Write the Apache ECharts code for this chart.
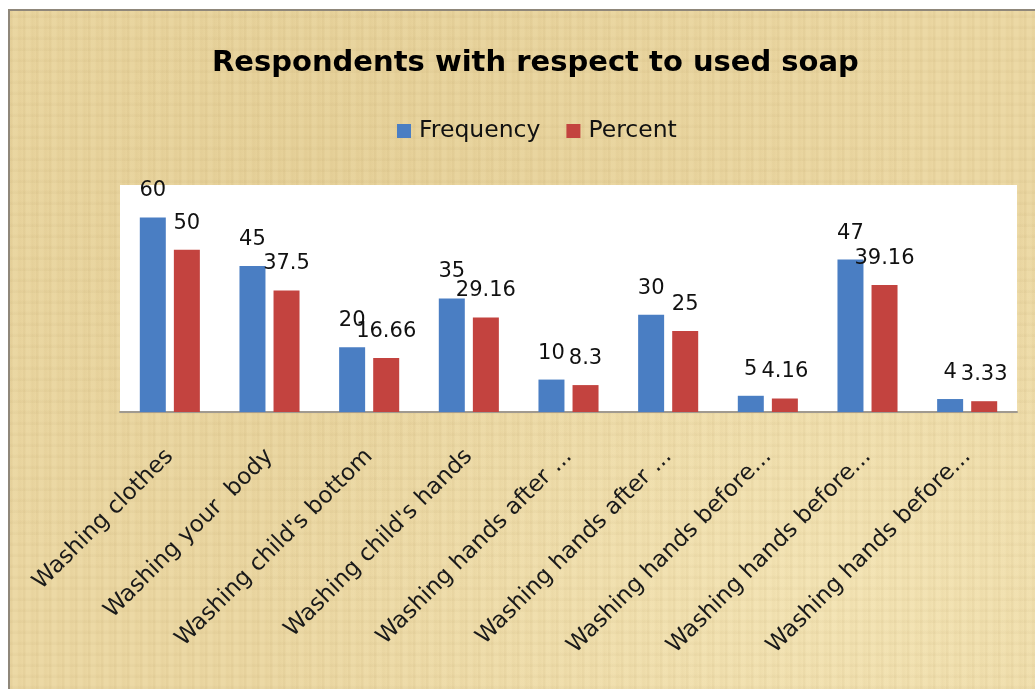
<!DOCTYPE html>
<html>
<head>
<meta charset="utf-8">
<script src="https://cdn.jsdelivr.net/npm/echarts@6/dist/echarts.min.js"></script>
<style>
html,body{margin:0;padding:0;background:#fff;width:1035px;height:689px;overflow:hidden;}
#frame{position:absolute;left:8px;top:9px;width:1027px;height:680px;box-sizing:border-box;
border-left:2px solid #8f877a;border-top:2px solid #8f877a;
background-color:#ebd7a2;
background-image:
repeating-linear-gradient(90deg, rgba(150,120,60,0.06) 0px, rgba(150,120,60,0.06) 2px, rgba(255,250,220,0.05) 3px, rgba(255,250,220,0.05) 7px, rgba(150,120,60,0.04) 9px, rgba(0,0,0,0) 13px),
repeating-linear-gradient(0deg, rgba(150,120,60,0.05) 0px, rgba(150,120,60,0.05) 2px, rgba(0,0,0,0) 4px, rgba(0,0,0,0) 11px),
radial-gradient(ellipse at 80% 85%, rgba(250,238,195,0.55), rgba(0,0,0,0) 50%),
radial-gradient(ellipse at 30% 20%, rgba(215,190,125,0.25), rgba(0,0,0,0) 60%);}
#chart{position:absolute;left:0;top:0;width:1035px;height:689px;}
</style>
</head>
<body>
<div id="frame"></div>
<div id="chart"></div>
<script>
const categories = ["Washing clothes","Washing your  body","Washing child's bottom","Washing child's hands","Washing hands after ...","Washing hands after ...","Washing hands before...","Washing hands before...","Washing hands before..."];
const frequency = [60,45,20,35,10,30,5,47,4];
const percent = [50,37.5,16.66,29.16,8.3,25,4.16,39.16,3.33];

const FONT = '"DejaVu Sans", "Open Sans", sans-serif';
const chart = echarts.init(document.getElementById('chart'), null, {renderer:'canvas'});
const labelCfg = {show:true, position:'top', distance:16, color:'#111', fontSize:21, fontFamily:FONT};
chart.setOption({
  backgroundColor:'transparent',
  animation:false,
  title:{text:'Respondents with respect to used soap', left:207, top:44,
    textStyle:{fontFamily:FONT, fontWeight:'bold', fontSize:29, color:'#000'}},
  legend:{top:114, left:392, itemWidth:14, itemHeight:14, itemGap:26,
    icon:'rect',
    textStyle:{fontFamily:FONT, fontSize:23.5, color:'#111', padding:[0,0,0,3]},
    data:['Frequency','Percent']},
  grid:{left:120, right:18, top:185, bottom:277, show:true, backgroundColor:'#ffffff', borderWidth:0},
  xAxis:{type:'category', data:categories,
    axisLine:{lineStyle:{color:'#a09a90', width:2}},
    axisTick:{show:false},
    axisLabel:{rotate:45, margin:41, interval:0, color:'#1a1a1a', fontSize:23, fontFamily:FONT}},
  yAxis:{type:'value', min:0, max:70, show:false, splitLine:{show:false}},
  series:[
    {name:'Frequency', type:'bar', data:frequency, barWidth:26, barGap:'31%',
      itemStyle:{color:'#4a7ec3'}, label:labelCfg},
    {name:'Percent', type:'bar', data:percent, barWidth:26,
      itemStyle:{color:'#c3433f'}, label:labelCfg}
  ]
});
</script>
</body>
</html>
